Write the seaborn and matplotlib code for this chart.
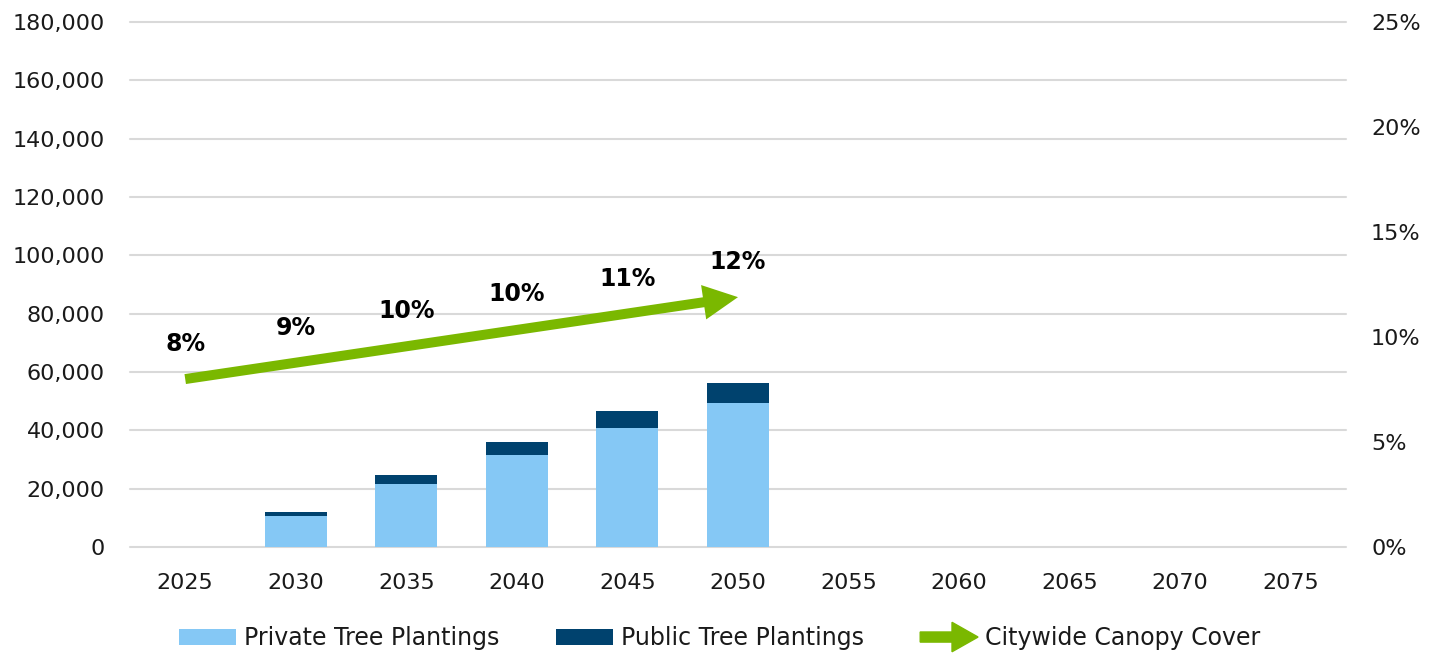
import numpy as np
import pandas as pd
import matplotlib
matplotlib.use("Agg")
import matplotlib.pyplot as plt
import matplotlib.patches as mpatches
from matplotlib.legend_handler import HandlerPatch
from matplotlib.ticker import FuncFormatter
import seaborn as sns

# ---- data ----
years = ["2025", "2030", "2035", "2040", "2045", "2050", "2055", "2060", "2065", "2070", "2075"]
private_plantings = [0, 10600, 21600, 31500, 40800, 49400, 0, 0, 0, 0, 0]
public_plantings = [0, 1400, 3100, 4500, 5800, 6800, 0, 0, 0, 0, 0]
canopy_years = ["2025", "2030", "2035", "2040", "2045", "2050"]
canopy_cover = [0.080, 0.088, 0.096, 0.104, 0.111, 0.119]
canopy_labels = ["8%", "9%", "10%", "10%", "11%", "12%"]
left_ticks = [0, 20000, 40000, 60000, 80000, 100000, 120000, 140000, 160000, 180000]
right_ticks = [0, 0.05, 0.10, 0.15, 0.20, 0.25]

LIGHT = "#85C8F5"
NAVY = "#00426E"
GREEN = "#7AB800"
TXT = "#1a1a1a"

sns.set_theme(style="white")
plt.rcParams['font.family'] = ['DejaVu Sans']

df = pd.DataFrame({"year": years, "private": private_plantings, "public": public_plantings})
df["total"] = df["private"] + df["public"]

fig = plt.figure(figsize=(14.39, 6.56), dpi=100)
ax = fig.add_axes([0.0903, 0.166, 0.8451, 0.8005])

sns.barplot(data=df, x="year", y="total", order=years, color=NAVY, width=0.56,
            saturation=1, linewidth=0, ax=ax, zorder=3)
sns.barplot(data=df, x="year", y="private", order=years, color=LIGHT, width=0.56,
            saturation=1, linewidth=0, ax=ax, zorder=3)

ax.set_xlim(-0.5, len(years) - 0.5)
ax.set_ylim(0, 180000)
ax.set_yticks(left_ticks)
ax.yaxis.set_major_formatter(FuncFormatter(lambda v, p: f"{int(v):,}"))
ax.grid(axis="y", color="#D9D9D9", linewidth=1.5, zorder=0)
ax.grid(axis="x", visible=False)
for gl in ax.get_ygridlines():
    gl.set_clip_on(False)
for s in ax.spines.values():
    s.set_visible(False)
ax.set_xlabel("")
ax.set_ylabel("")
ax.tick_params(axis="y", length=0, pad=18, labelsize=16, labelcolor=TXT)
ax.tick_params(axis="x", length=0, pad=19, labelsize=16, labelcolor=TXT)

ax2 = ax.twinx()
ax2.set_ylim(0, 0.25)
ax2.set_yticks(right_ticks)
ax2.yaxis.set_major_formatter(FuncFormatter(lambda v, p: f"{v*100:.0f}%"))
for s in ax2.spines.values():
    s.set_visible(False)
ax2.grid(False)
ax2.tick_params(axis="y", length=0, pad=18, labelsize=16, labelcolor=TXT)

xpos = [years.index(y) for y in canopy_years]
ax2.annotate("", xy=(xpos[-1], canopy_cover[-1]), xytext=(xpos[0], canopy_cover[0]),
             xycoords="data", textcoords="data",
             arrowprops=dict(arrowstyle="simple,head_length=2.5,head_width=2.5,tail_width=0.72",
                             color=GREEN, shrinkA=0, shrinkB=0, mutation_scale=10, lw=0),
             zorder=5)
for xp, v, lab in zip(xpos, canopy_cover, canopy_labels):
    ax2.annotate(lab, xy=(xp, v), xytext=(0, 25), textcoords="offset points",
                 ha="center", va="center", fontsize=17, fontweight="bold", color="black")


def make_arrow(legend, orig_handle, xdescent, ydescent, width, height, fontsize):
    return mpatches.FancyArrow(-xdescent, height / 2 - ydescent, width, 0,
                               width=0.6 * height, head_width=1.75 * height,
                               head_length=0.45 * width, length_includes_head=True,
                               color=GREEN, lw=0)


handles = [mpatches.Patch(color=LIGHT, lw=0), mpatches.Patch(color=NAVY, lw=0),
           mpatches.FancyArrow(0, 0, 1, 0, color=GREEN)]
labels = ["Private Tree Plantings", "Public Tree Plantings", "Citywide Canopy Cover"]
fig.legend(handles, labels, loc="center", bbox_to_anchor=(0.5, 0.027), ncol=3,
           frameon=False, fontsize=17, handlelength=2.45, handleheight=0.72,
           handletextpad=0.3, columnspacing=2.4, labelcolor=TXT,
           handler_map={mpatches.FancyArrow: HandlerPatch(patch_func=make_arrow)})

fig.savefig("out.png", dpi=100)
